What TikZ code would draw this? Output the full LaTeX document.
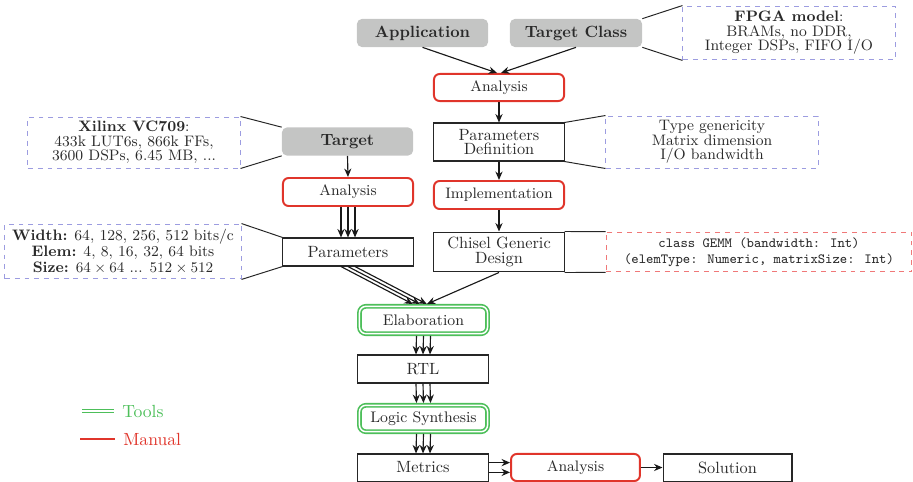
\documentclass[tikz,border=0pt]{standalone}
\usetikzlibrary{arrows.meta}
\definecolor{boxgray}{HTML}{C4C5C4}
\definecolor{mred}{HTML}{E0352B}
\definecolor{tgreen}{HTML}{4DBF5A}
\definecolor{dblue}{HTML}{9C9CE0}
\definecolor{dred}{HTML}{F07878}
\definecolor{txt}{HTML}{2A2A2A}
\begin{document}
\begin{tikzpicture}[x=0.6135pt,y=-0.6135pt,
  graybox/.style={fill=boxgray, rounded corners=3pt, text=txt, inner sep=0pt,
    font=\bfseries\fontsize{10}{12}\selectfont, minimum width=80.4pt, minimum height=17.2pt},
  manual/.style={draw=mred, line width=1.2pt, rounded corners=3.5pt, fill=white, text=txt,
    inner sep=0pt, font=\fontsize{9.3}{11}\selectfont, minimum width=79.8pt, minimum height=16.6pt},
  tool/.style={draw=tgreen, double=white, double distance=0.9pt, line width=1pt,
    rounded corners=4pt, text=txt, inner sep=0pt, outer sep=1.4pt,
    font=\fontsize{9.4}{11}\selectfont, minimum width=78.6pt, minimum height=16.8pt},
  plainbox/.style={draw=black!85, line width=0.65pt, fill=white, text=txt, align=center, inner sep=0pt,
    font={\fontsize{10}{8.8}\selectfont\lineskiplimit=-100pt}, minimum width=79.8pt, minimum height=17.2pt},
  note/.style={draw=dblue, dashed, line width=0.6pt, align=center, text=txt, inner sep=0pt,
    font={\fontsize{9.3}{8.9}\selectfont\lineskiplimit=-100pt}, minimum width=130.1pt, minimum height=31.9pt},
  callout/.style={draw=black!85, line width=0.6pt},
  arr/.style={-{Stealth[length=5.2pt,width=4.4pt]}, line width=0.7pt, draw=black!90},
  toolline/.style={draw=tgreen, double=white, double distance=0.9pt, line width=1pt},
  manline/.style={draw=mred, line width=1pt}
]
\useasboundingbox (0,0) rectangle (913,482);

% top column
\node[graybox] (app) at (422.5,33) {Application};
\node[graybox, minimum width=81pt] (tc) at (576,33) {Target Class};
\node[note, minimum height=33.1pt] (fpga) at (789,33) {\textbf{FPGA model}:\\BRAMs, no DDR,\\Integer DSPs, FIFO I/O};
\node[manual] (ana1) at (499,87.5) {Analysis};
\node[plainbox, minimum height=23.3pt] (pd) at (499,142) {Parameters\\Definition};
\node[note] (typ) at (712,142) {Type genericity\\Matrix dimension\\I/O bandwidth};
\node[manual, minimum height=17.2pt] (impl) at (499,195) {Implementation};
\node[plainbox, minimum height=24.5pt] (chisel) at (499,252) {Chisel Generic\\Design};
\node[note, draw=dred, minimum width=187.7pt, minimum height=24.5pt,
  font={\fontsize{8.6}{9.6}\selectfont}] (cls) at (759,252)
  {\texttt{class GEMM (bandwidth: Int)}\\\texttt{(elemType: Numeric, matrixSize: Int)}};

% left column
\node[graybox] (tgt) at (347.5,141.5) {Target};
\node[note, minimum height=31.3pt] (xil) at (134,142.5) {\textbf{Xilinx VC709}:\\433k LUT6s, 866k FFs,\\3600 DSPs, 6.45 MB, ...};
\node[manual, minimum height=17.2pt] (ana2) at (348,192) {Analysis};
\node[plainbox] (par) at (348,252) {Parameters};
\node[note, minimum width=144.8pt, minimum height=33.7pt,
  font={\fontsize{9.3}{9.7}\selectfont\lineskiplimit=-100pt}] (wid) at (123,251.5)
  {\textbf{Width:} 64, 128, 256, 512 bits/c\\\textbf{Elem:} 4, 8, 16, 32, 64 bits\\\textbf{Size:} $64\times64$ ... $512\times512$};

% bottom chain
\node[tool] (elab) at (423.5,320) {Elaboration};
\node[plainbox] (rtl) at (423,369) {RTL};
\node[tool, minimum height=16.2pt] (ls) at (423.5,418.5) {Logic Synthesis};
\node[plainbox, minimum height=16.6pt] (met) at (423,467.5) {Metrics};
\node[manual, minimum width=79.1pt] (ana3) at (575.5,467.5) {Analysis};
\node[plainbox, minimum width=79.1pt, minimum height=16.6pt] (sol) at (727.5,467.5) {Solution};

% callouts
\draw[callout] (tc.north east) -- (fpga.north west);
\draw[callout] (tc.south east) -- (fpga.south west);
\draw[callout] (pd.north east) -- (typ.north west);
\draw[callout] (pd.south east) -- (typ.south west);
\draw[callout] (chisel.north east) -- (cls.north west);
\draw[callout] (chisel.south east) -- (cls.south west);
\draw[callout] (xil.north east) -- (tgt.north west);
\draw[callout] (xil.south east) -- (tgt.south west);
\draw[callout] (wid.north east) -- (par.north west);
\draw[callout] (wid.south east) -- (par.south west);

% arrows
\draw[arr] (app.south) -- ([xshift=-1.2pt]ana1.north);
\draw[arr] (tc.south) -- ([xshift=1.2pt]ana1.north);
\draw[arr] (ana1.south) -- (pd.north);
\draw[arr] (pd.south) -- (impl.north);
\draw[arr] (impl.south) -- (chisel.north);
\draw[arr] (tgt.south) -- (ana2.north);
\foreach \s in {-4.3,0,4.3} {
  \draw[arr] ([xshift=\s pt]ana2.south) -- ([xshift=\s pt]par.north);
  \draw[arr] ([xshift=\s pt]elab.south) -- ([xshift=\s pt]rtl.north);
  \draw[arr] ([xshift=\s pt]rtl.south) -- ([xshift=\s pt]ls.north);
  \draw[arr] ([xshift=\s pt]ls.south) -- ([xshift=\s pt]met.north);
}
\foreach \s/\e in {-4.3/-6.6, 0/-2.3, 4.3/2.0}
  \draw[arr] ([xshift=\s pt]par.south) -- ([xshift=\e pt]elab.north);
\draw[arr] (chisel.south) -- ([xshift=2.1pt]elab.north);
\foreach \s in {-3,3}
  \draw[arr] ([yshift=\s pt]met.east) -- ([yshift=\s pt]ana3.west);
\draw[arr] (ana3.east) -- (sol.west);

% legend
\coordinate (t1) at (82,411);
\coordinate (t2) at (114,411);
\draw[toolline] (t1) -- (t2);
\node[anchor=west, text=tgreen, inner sep=0pt, font=\fontsize{10.8}{13}\selectfont] (tools) at (122,411) {Tools};
\coordinate (m1) at (80,439);
\coordinate (m2) at (115,439);
\draw[manline] (m1) -- (m2);
\node[anchor=west, text=mred, inner sep=0pt, font=\fontsize{10.8}{13}\selectfont] (manual) at (123,439) {Manual};
\end{tikzpicture}
\end{document}
